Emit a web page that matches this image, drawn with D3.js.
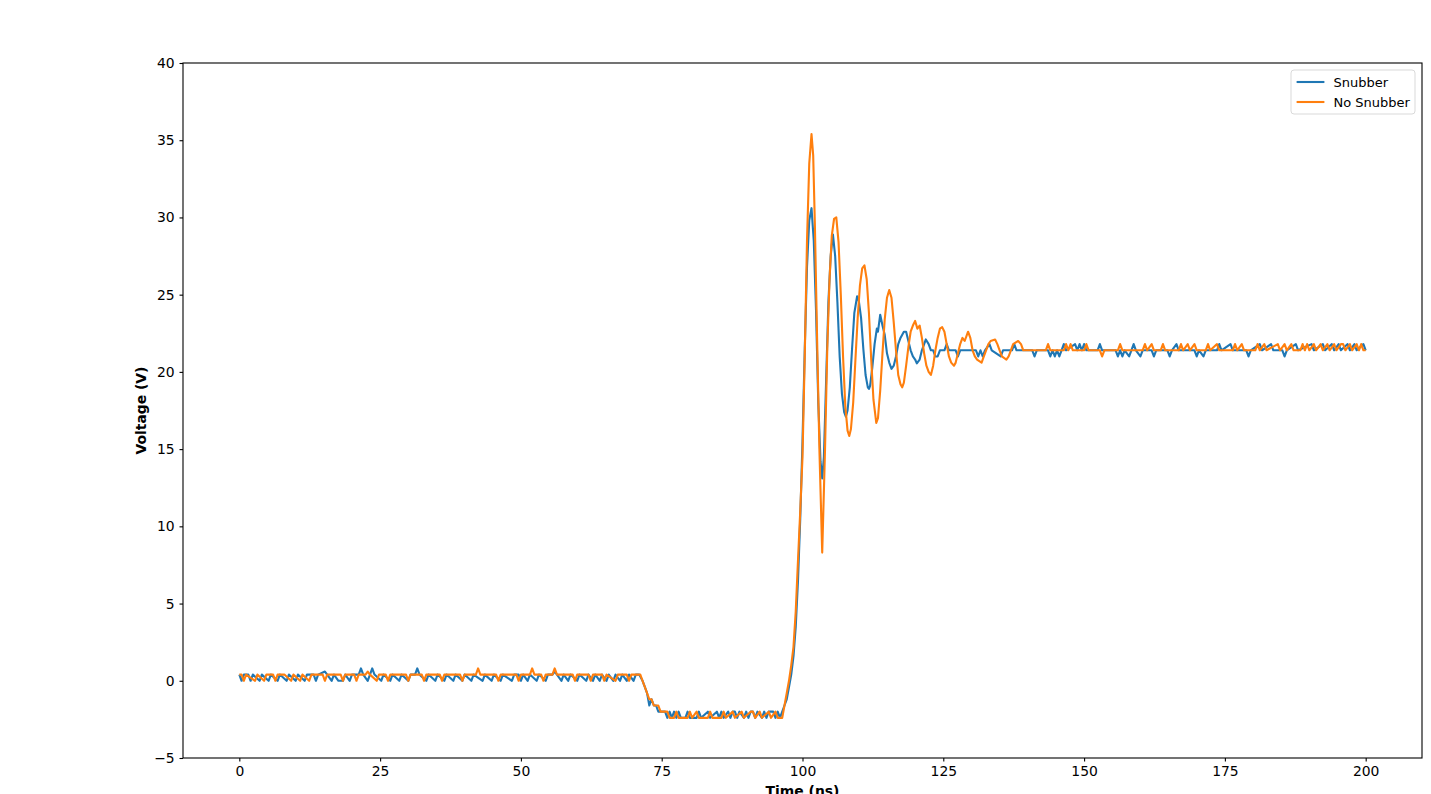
<!DOCTYPE html>
<html>
<head>
<meta charset="utf-8">
<script src="https://cdn.jsdelivr.net/npm/d3@7"></script>
<style>
  body { margin: 0; background: #fff; }
  svg text { font-family: "DejaVu Sans", sans-serif; }
</style>
</head>
<body>
<div id="visualization"><svg width="1431" height="794"></svg></div>
<script>
// time (ns), voltage (V)
var snubber = [
  [0,0.4],[0.4,0.0],[0.8,0.4],[1.6,0.4],[2.0,0.0],[2.4,0.4],[3.6,0.0],[4.0,0.4],[5.2,0.0],[5.6,0.4],
  [6.8,0.0],[7.2,0.4],[8.4,0.0],[8.8,0.4],[10.0,0.0],[10.4,0.4],[11.6,0.0],[12.0,0.4],[13.2,0.4],[13.6,0.0],
  [14.0,0.4],[15.2,0.6],[15.6,0.4],[16.4,0.0],[16.8,0.4],[17.6,0.0],[18.4,0.0],[18.8,0.4],[19.6,0.0],[20.0,0.4],
  [21.2,0.4],[21.6,0.8],[22.0,0.4],[22.8,0.0],[23.2,0.4],[23.6,0.8],[24.0,0.4],[25.2,0.0],[25.6,0.4],[26.8,0.0],
  [27.2,0.4],[28.4,0.0],[28.8,0.4],[30.0,0.0],[30.4,0.4],[31.2,0.4],[31.6,0.8],[32.0,0.4],[33.2,0.0],[33.6,0.4],
  [34.8,0.0],[35.2,0.4],[36.4,0.0],[36.8,0.4],[38.0,0.0],[38.4,0.4],[39.6,0.0],[40.0,0.4],[41.2,0.0],[41.6,0.4],
  [43.2,0.0],[43.6,0.4],[44.8,0.0],[45.2,0.4],[46.4,0.0],[46.8,0.4],[48.4,0.0],[48.8,0.4],[49.6,0.4],[50.0,0.0],
  [50.4,0.4],[51.2,0.0],[51.6,0.4],[52.8,0.0],[53.2,0.4],[54.4,0.0],[54.8,0.4],[55.6,0.4],[56.0,0.6],[56.4,0.4],
  [57.2,0.0],[57.6,0.4],[58.4,0.0],[58.8,0.4],[60.0,0.0],[60.4,0.4],[61.6,0.0],[62.0,0.4],[62.8,0.0],[63.2,0.4],
  [64.0,0.0],[64.4,0.4],[65.2,0.0],[65.6,0.4],[66.4,0.0],[66.8,0.4],[67.6,0.0],[68.0,0.4],[68.8,0.0],[69.2,0.4],
  [70.0,0.0],[70.4,0.4],[71.0,0.4],
  [71.6,0.0],[72.0,-0.4],[72.4,-0.8],[72.8,-1.6],[73.2,-1.2],[73.6,-1.6],[74.0,-1.6],[74.4,-2.0],[75.6,-2.0],
  [76.0,-2.4],[76.4,-2.0],[76.8,-2.4],[77.2,-2.0],[77.6,-2.4],[78.0,-2.0],[78.4,-2.4],[79.2,-2.4],[79.6,-2.0],
  [80.0,-2.4],[81.2,-2.4],[81.6,-2.0],[82.0,-2.4],[83.2,-2.0],[83.6,-2.4],[84.8,-2.0],[85.2,-2.4],[85.6,-2.0],
  [86.0,-2.4],[86.8,-2.0],[87.2,-2.4],[87.6,-2.0],[88.0,-2.0],[88.4,-2.4],[88.8,-2.0],[89.6,-2.4],[90.0,-2.0],
  [90.4,-2.4],[90.8,-2.0],[91.2,-2.0],[91.6,-2.4],[92.0,-2.0],[92.8,-2.4],[93.2,-2.0],[93.6,-2.4],[94.0,-2.0],
  [94.8,-2.0],[95.2,-2.4],[95.6,-2.0],[96.0,-2.4],[96.4,-2.0],
  [96.8,-1.6],[97.2,-1.2],[97.6,-0.4],[98.0,0.4],[98.4,1.6],[98.8,3.5],[99.2,6.5],[99.6,10.5],[100.0,15.5],
  [100.4,21.5],[100.8,26.8],[101.2,29.8],[101.6,30.6],[102.0,28.5],[102.4,24.0],[102.8,18.0],[103.2,14.2],
  [103.5,13.1],[103.8,14.5],[104.2,19.5],[104.6,24.5],[105.0,27.5],[105.4,28.9],[105.8,27.5],[106.2,24.5],
  [106.6,21.0],[107.0,18.6],[107.4,17.4],[107.7,17.1],[108.0,17.5],[108.4,19.0],[108.8,21.5],[109.2,23.8],
  [109.7,24.9],[110.0,24.6],[110.4,23.5],[110.8,21.5],[111.2,19.8],[111.6,19.0],[111.8,18.9],[112.0,19.1],
  [112.4,20.3],[112.8,21.8],[113.2,22.8],[113.4,22.6],[113.8,23.7],[114.2,23.0],[114.6,22.4],[115.0,21.2],
  [115.4,20.6],[115.8,20.2],[116.2,20.4],[116.6,21.0],[117.0,21.8],[117.4,22.2],[118.0,22.6],[118.4,22.6],
  [118.8,22.0],[119.2,21.4],[119.6,21.0],[120.0,20.8],[120.3,20.55],[120.8,20.8],[121.2,21.4],[121.6,21.8],
  [121.9,22.1],[122.4,21.8],[122.8,21.4],[123.2,21.4],[123.6,21.0],[124.0,21.0],[124.4,21.4],
  [125.2,21.4],[125.6,21.8],[126.0,21.4],[127.2,21.4],[127.6,21.0],[128.0,21.4],[130.8,21.4],[131.2,21.0],
  [131.6,21.4],[132.0,21.0],[132.4,21.4],[133.2,21.8],[133.6,21.4],[135.2,21.0],[135.6,21.4],[137.2,21.4],
  [137.6,21.8],[138.0,21.4],[140.8,21.4],[141.2,21.0],[141.6,21.4],[143.6,21.4],[144.0,21.0],[144.4,21.4],
  [144.8,21.0],[145.2,21.4],[145.6,21.0],[146.0,21.4],[146.4,21.8],[146.8,21.4],[148.4,21.8],[148.8,21.4],
  [149.2,21.8],[149.6,21.4],[150.0,21.8],[150.4,21.4],[152.4,21.4],[152.8,21.8],[153.2,21.4],[155.6,21.4],
  [156.0,21.0],[156.4,21.4],[156.8,21.0],[157.2,21.4],[158.0,21.0],[158.4,21.4],[158.8,21.8],[159.2,21.4],
  [160.0,21.0],[160.4,21.4],[162.0,21.4],[162.4,21.0],[162.8,21.4],[164.8,21.4],[165.2,21.0],[165.6,21.4],
  [166.4,21.8],[166.8,21.4],[169.6,21.4],[170.0,21.0],[170.4,21.4],[171.2,21.0],[171.6,21.4],[173.6,21.4],
  [174.0,21.8],[174.4,21.4],[176.0,21.8],[176.4,21.4],[178.8,21.4],[179.2,21.0],[179.6,21.4],[181.2,21.8],
  [181.6,21.4],[183.2,21.8],[183.6,21.4],[185.2,21.4],[185.6,21.0],[186.0,21.4],[187.6,21.8],[188.0,21.4],
  [190.4,21.8],[190.8,21.4],[192.4,21.8],[192.8,21.4],[194.0,21.8],[194.4,21.4],[195.2,21.8],[195.6,21.4],
  [196.8,21.8],[197.2,21.4],[198.0,21.8],[198.4,21.4],[199.6,21.8],[200.0,21.4]
];

var noSnubber = [
  [0,0.4],[0.4,0.4],[0.8,0.0],[1.2,0.4],[2.8,0.0],[3.2,0.4],[4.4,0.0],[4.8,0.4],[6.0,0.4],[6.4,0.0],
  [6.8,0.4],[8.0,0.4],[9.2,0.0],[9.6,0.4],[10.8,0.0],[11.2,0.4],[12.4,0.0],[12.8,0.4],[14.8,0.4],[15.2,0.0],
  [15.6,0.4],[18.0,0.4],[18.4,0.0],[18.8,0.4],[20.4,0.4],[20.8,0.0],[21.2,0.4],[22.4,0.4],[22.8,0.6],[23.2,0.4],
  [24.4,0.0],[24.8,0.4],[26.0,0.4],[26.4,0.0],[26.8,0.4],[29.6,0.4],[30.0,0.0],[30.4,0.4],[32.4,0.4],[32.8,0.0],
  [33.2,0.4],[35.6,0.4],[36.0,0.0],[36.4,0.4],[39.2,0.4],[39.6,0.0],[40.0,0.4],[42.0,0.4],[42.4,0.8],[42.8,0.4],
  [45.6,0.4],[46.0,0.0],[46.4,0.4],[49.2,0.4],[49.6,0.0],[50.0,0.4],[51.6,0.4],[52.0,0.8],[52.4,0.4],[53.6,0.4],
  [54.0,0.0],[54.4,0.4],[55.6,0.4],[56.0,0.8],[56.4,0.4],[59.2,0.4],[59.6,0.0],[60.0,0.4],[62.0,0.4],[62.4,0.0],
  [62.8,0.4],[64.4,0.4],[64.8,0.0],[65.2,0.4],[66.8,0.0],[67.2,0.4],[68.8,0.4],[69.2,0.0],[69.6,0.4],[71.2,0.4],
  [71.6,0.0],[72.0,-0.4],[72.4,-0.8],[72.8,-1.2],[73.2,-1.2],[73.6,-1.6],[74.4,-1.6],[74.8,-2.0],[76.0,-2.0],
  [76.4,-2.4],[77.2,-2.4],[77.6,-2.0],[78.0,-2.4],[79.6,-2.4],[80.0,-2.0],[80.4,-2.4],[81.2,-2.0],[81.6,-2.4],
  [83.2,-2.4],[83.6,-2.0],[84.0,-2.4],[85.6,-2.4],[86.0,-2.0],[86.4,-2.4],[87.6,-2.0],[88.0,-2.4],[89.2,-2.0],
  [89.6,-2.4],[90.8,-2.0],[91.2,-2.0],[91.6,-2.4],[92.4,-2.0],[92.8,-2.4],[94.0,-2.0],[94.4,-2.4],[95.2,-2.0],
  [95.6,-2.4],[96.4,-2.4],
  [96.8,-1.6],[97.2,-0.8],[97.6,0.0],[98.0,1.0],[98.4,2.2],[98.8,4.5],[99.2,7.8],[99.6,11.0],[100.0,14.5],
  [100.4,21.0],[100.8,28.5],[101.2,33.5],[101.6,35.4],[101.9,34.0],[102.2,29.5],[102.6,22.0],[103.0,15.0],
  [103.5,8.3],[104.0,15.0],[104.4,21.5],[104.8,26.0],[105.2,28.8],[105.6,29.9],[106.0,30.0],[106.4,28.4],
  [106.8,25.0],[107.2,21.0],[107.6,17.8],[108.0,16.2],[108.3,15.85],[108.6,16.3],[109.0,18.0],[109.4,20.8],
  [109.8,23.5],[110.2,25.6],[110.6,26.7],[111.0,26.9],[111.4,26.0],[111.8,23.8],[112.2,20.8],[112.6,18.2],
  [113.1,16.7],[113.4,17.0],[113.8,18.8],[114.2,21.2],[114.6,23.4],[115.0,24.8],[115.4,25.3],[115.8,24.8],
  [116.2,23.2],[116.6,21.4],[117.0,19.8],[117.4,19.2],[117.7,19.0],[118.0,19.3],[118.4,20.4],[118.8,21.6],
  [119.2,22.6],[119.6,23.0],[120.0,23.3],[120.4,22.8],[120.8,23.0],[121.2,22.2],[121.6,21.2],[122.0,20.4],
  [122.4,20.0],[122.8,19.8],[123.2,20.4],[123.6,21.4],[124.0,22.2],[124.4,22.8],[124.8,22.9],[125.2,22.6],
  [125.6,21.8],[126.0,21.0],[126.4,20.6],[126.9,20.4],[127.2,20.6],[127.6,21.2],[128.0,21.8],[128.4,22.2],
  [128.8,22.0],[129.4,22.6],[129.8,22.2],[130.2,21.4],[130.6,21.0],[131.0,20.8],[131.8,20.6],[132.2,21.0],
  [132.6,21.4],[133.0,21.8],[133.4,22.0],[134.2,22.1],[134.6,21.8],[135.0,21.4],[135.4,21.0],[136.2,20.8],
  [136.6,21.0],[137.0,21.4],[137.4,21.8],[138.3,22.0],[138.8,21.8],[139.2,21.4],
  [143.2,21.4],[143.6,21.8],[144.0,21.4],[146.4,21.4],[146.8,21.8],[147.2,21.4],[147.6,21.8],[148.0,21.4],
  [150.0,21.4],[150.4,21.8],[150.8,21.4],[152.8,21.4],[153.2,21.0],[153.6,21.4],[156.0,21.4],[156.4,21.8],
  [156.8,21.4],[160.4,21.4],[160.8,21.8],[161.2,21.4],[162.0,21.8],[162.4,21.4],[163.6,21.4],[164.0,21.8],
  [164.4,21.4],[166.8,21.4],[167.2,21.8],[167.6,21.4],[168.4,21.8],[168.8,21.4],[169.6,21.8],[170.0,21.4],
  [171.6,21.4],[172.0,21.8],[172.4,21.4],[173.6,21.8],[174.0,21.4],[176.4,21.4],[176.8,21.8],[177.2,21.4],
  [178.0,21.8],[178.4,21.4],[180.4,21.4],[180.8,21.8],[181.2,21.4],[182.0,21.8],[182.4,21.4],[184.4,21.8],
  [184.8,21.4],[185.6,21.8],[186.0,21.4],[186.8,21.8],[187.2,21.4],[188.4,21.4],[188.8,21.8],[189.2,21.4],
  [189.6,21.8],[190.0,21.4],[190.8,21.8],[191.2,21.4],[192.0,21.8],[192.4,21.4],[193.2,21.8],[193.6,21.4],
  [194.4,21.8],[194.8,21.4],[195.6,21.8],[196.0,21.8],[196.4,21.4],[197.2,21.8],[197.6,21.4],[198.4,21.8],
  [198.8,21.4],[199.2,21.8],[199.6,21.4],[200.0,21.4]
];

var seriesNames = ["Snubber", "No Snubber"];
var seriesColors = ["#1f77b4", "#ff7f0e"];
var xTicks = [0, 25, 50, 75, 100, 125, 150, 175, 200];
var yTicks = [-5, 0, 5, 10, 15, 20, 25, 30, 35, 40];

var plotLeft = 183, plotRight = 1422, plotTop = 63, plotBottom = 758;
var fontSize = 13.9;
var legendFontSize = 13;

var svg = d3.select("#visualization").select("svg");

var x = d3.scaleLinear().domain([-10, 210]).range([plotLeft, plotRight]);
var y = d3.scaleLinear().domain([-5, 40]).range([plotBottom, plotTop]);

// axes
var xAxis = svg.append("g").attr("transform", "translate(0," + plotBottom + ")")
    .call(d3.axisBottom(x).tickValues(xTicks).tickSize(3.5).tickPadding(4.9).tickSizeOuter(0));
var yAxis = svg.append("g").attr("transform", "translate(" + plotLeft + ",0)")
    .call(d3.axisLeft(y).tickValues(yTicks).tickSize(3.5).tickPadding(4.9).tickSizeOuter(0));

[xAxis, yAxis].forEach(function (a) {
    a.select(".domain").remove();
    a.selectAll("line").style("stroke", "black").style("stroke-width", 1.1);
    a.selectAll("text").style("font-size", fontSize + "px").style("fill", "black")
        .style("font-family", "DejaVu Sans");
});

// lines
var line = d3.line()
    .x(function (d) { return x(d[0]); })
    .y(function (d) { return y(d[1]); });

[snubber, noSnubber].forEach(function (s, i) {
    svg.append("path").datum(s)
        .attr("d", line)
        .style("fill", "none")
        .style("stroke", seriesColors[i])
        .style("stroke-width", 2.1)
        .style("stroke-linejoin", "round")
        .style("stroke-linecap", "butt");
});

// frame
svg.append("rect").attr("x", plotLeft).attr("y", plotTop)
    .attr("width", plotRight - plotLeft).attr("height", plotBottom - plotTop)
    .style("fill", "none").style("stroke", "black").style("stroke-width", 1.1);

// axis labels (the x label sits at the bottom edge, as in the original figure)
svg.append("text").text("Time (ns)")
    .attr("x", (plotLeft + plotRight) / 2).attr("y", 796)
    .style("text-anchor", "middle").style("font-size", fontSize + "px").style("font-weight", "bold");

svg.append("text").text("Voltage (V)")
    .attr("transform", "translate(146," + ((plotTop + plotBottom) / 2) + ") rotate(-90)")
    .style("text-anchor", "middle").style("font-size", fontSize + "px").style("font-weight", "bold");

// legend
var legend = svg.append("g").attr("transform", "translate(1291,70)");
legend.append("rect").attr("width", 124).attr("height", 44).attr("rx", 3)
    .style("fill", "white").style("fill-opacity", 0.8).style("stroke", "#d9d9d9").style("stroke-width", 1);

var item = legend.selectAll(".item").data(seriesNames).enter().append("g")
    .attr("transform", function (d, i) {
        return "translate(0," + (12 + i * 20) + ")";
    });

item.append("line").attr("x1", 5.6).attr("x2", 33.4).attr("y1", 0).attr("y2", 0)
    .style("stroke", function (d, i) { return seriesColors[i]; }).style("stroke-width", 2.1);

item.append("text").text(function (d) { return d; })
    .attr("x", 42.5).attr("y", 4.6).style("font-size", legendFontSize + "px").style("fill", "black");
</script>
</body>
</html>
